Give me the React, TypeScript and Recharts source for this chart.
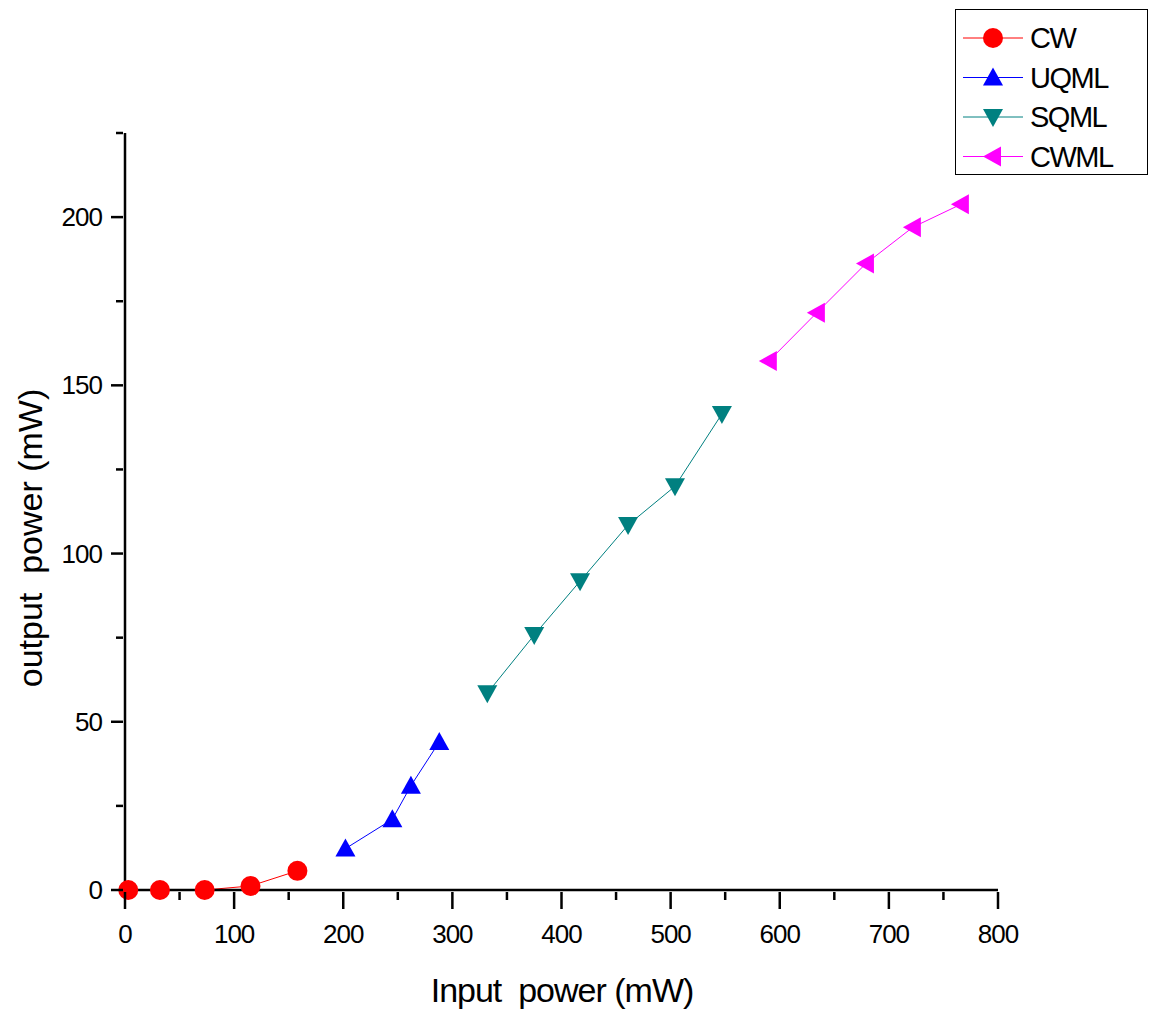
import React from "react";
import { LineChart, Line, XAxis, YAxis, Label } from "recharts";

const cwX = [3, 32, 73, 115, 158];
const cwY = [0, 0, 0, 1.2, 5.7];
const uqmlX = [202, 245, 262, 288];
const uqmlY = [12.3, 21, 31, 44];
const sqmlX = [332, 375, 417, 461, 504, 547];
const sqmlY = [58.5, 75.8, 91.8, 108.5, 120, 141.5];
const cwmlX = [590, 634, 679, 722, 766];
const cwmlY = [157.2, 171.6, 186.2, 197, 203.8];

const xTicks = [0, 50, 100, 150, 200, 250, 300, 350, 400, 450, 500, 550, 600, 650, 700, 750, 800];
const yTicks = [0, 25, 50, 75, 100, 125, 150, 175, 200, 225];

const toPoints = (xs: number[], ys: number[]) => xs.map((x, i) => ({ x, y: ys[i] }));

const series = [
  { name: "CW", color: "#ff0000", shape: "circle", data: toPoints(cwX, cwY) },
  { name: "UQML", color: "#0000ff", shape: "up", data: toPoints(uqmlX, uqmlY) },
  { name: "SQML", color: "#008080", shape: "down", data: toPoints(sqmlX, sqmlY) },
  { name: "CWML", color: "#ff00ff", shape: "left", data: toPoints(cwmlX, cwmlY) },
];

const FONT = "'Liberation Sans', Arial, sans-serif";

const Marker = ({ cx, cy, shape, color }: any) => {
  if (cx == null || cy == null) return null;
  const s = 10;
  if (shape === "circle") {
    return <ellipse cx={cx} cy={cy} rx={s} ry={s} fill={color} />;
  }
  let pts = "";
  if (shape === "up") pts = `${cx},${cy - s} ${cx - s},${cy + s * 0.8} ${cx + s},${cy + s * 0.8}`;
  if (shape === "down") pts = `${cx},${cy + s} ${cx - s},${cy - s * 0.8} ${cx + s},${cy - s * 0.8}`;
  if (shape === "left") pts = `${cx - s},${cy} ${cx + s * 0.8},${cy - s} ${cx + s * 0.8},${cy + s}`;
  return <polygon points={pts} fill={color} />;
};

const XTick = ({ x, y, payload }: any) => {
  const major = payload.value % 100 === 0;
  return (
    <g>
      <line x1={x} y1={y} x2={x} y2={y + (major ? 17 : 8)} stroke="#000" strokeWidth={2.5} />
      {major && (
        <text x={x} y={y + 51} textAnchor="middle" fontSize={26} fontFamily={FONT} letterSpacing={-1} fill="#000">
          {payload.value}
        </text>
      )}
    </g>
  );
};

const YTick = ({ x, y, payload }: any) => {
  const major = payload.value % 50 === 0;
  return (
    <g>
      <line x1={x} y1={y} x2={x - (major ? 12 : 7)} y2={y} stroke="#000" strokeWidth={2.5} />
      {major && (
        <text x={x - 21} y={y + 9} textAnchor="end" fontSize={26} fontFamily={FONT} letterSpacing={-1} fill="#000">
          {payload.value}
        </text>
      )}
    </g>
  );
};

const LegendBox = () => (
  <svg width={194} height={167} style={{ display: "block" }}>
    <rect x={0.5} y={0.5} width={192} height={165} fill="#fff" stroke="#000" strokeWidth={1} />
    {series.map((s, i) => {
      const cy = 29 + i * 39.5;
      return (
        <g key={s.name}>
          <line x1={8} y1={cy} x2={68} y2={cy} stroke={s.color} strokeWidth={1} />
          <Marker cx={38} cy={cy} shape={s.shape} color={s.color} />
          <text x={75} y={cy + 10} fontSize={29} fontFamily={FONT} letterSpacing={-1.5} fill="#000">
            {s.name}
          </text>
        </g>
      );
    })}
  </svg>
);

export default function App() {
  return (
    <div style={{ position: "absolute", left: 0, top: 0, width: 1149, height: 1009, background: "#fff" }}>
      <LineChart width={1149} height={1009} margin={{ top: 133, right: 151, left: 0, bottom: 0 }}>
        <XAxis
          type="number"
          dataKey="x"
          domain={[0, 800]}
          ticks={xTicks}
          interval={0}
          tickSize={0}
          tickLine={false}
          tick={<XTick />}
          height={119}
          axisLine={{ stroke: "#000", strokeWidth: 2.5 }}
          allowDuplicatedCategory={false}
        >
          <Label
            content={() => (
              <text x={562} y={1002} textAnchor="middle" fontSize={34} fontFamily={FONT} letterSpacing={-1} fill="#000" style={{ whiteSpace: "pre" }}>
                {"Input  power (mW)"}
              </text>
            )}
          />
        </XAxis>
        <YAxis
          type="number"
          dataKey="y"
          domain={[0, 225]}
          ticks={yTicks}
          interval={0}
          tickSize={0}
          tickLine={false}
          tick={<YTick />}
          width={125}
          axisLine={{ stroke: "#000", strokeWidth: 2.5 }}
        >
          <Label
            content={() => (
              <text
                x={42}
                y={538}
                transform="rotate(-90 42 538)"
                textAnchor="middle"
                fontSize={34}
                fontFamily={FONT}
                fill="#000"
                style={{ whiteSpace: "pre" }}
              >
                {"output  power (mW)"}
              </text>
            )}
          />
        </YAxis>
        {series.map((s) => (
          <Line
            key={s.name}
            name={s.name}
            data={s.data}
            dataKey="y"
            type="linear"
            stroke={s.color}
            strokeWidth={1}
            dot={(p: any) => <Marker key={`${s.name}-${p.index}`} cx={p.cx} cy={p.cy} shape={s.shape} color={s.color} />}
            activeDot={false}
            isAnimationActive={false}
          />
        ))}
      </LineChart>
      <div style={{ position: "absolute", left: 955, top: 9 }}>
        <LegendBox />
      </div>
    </div>
  );
}
